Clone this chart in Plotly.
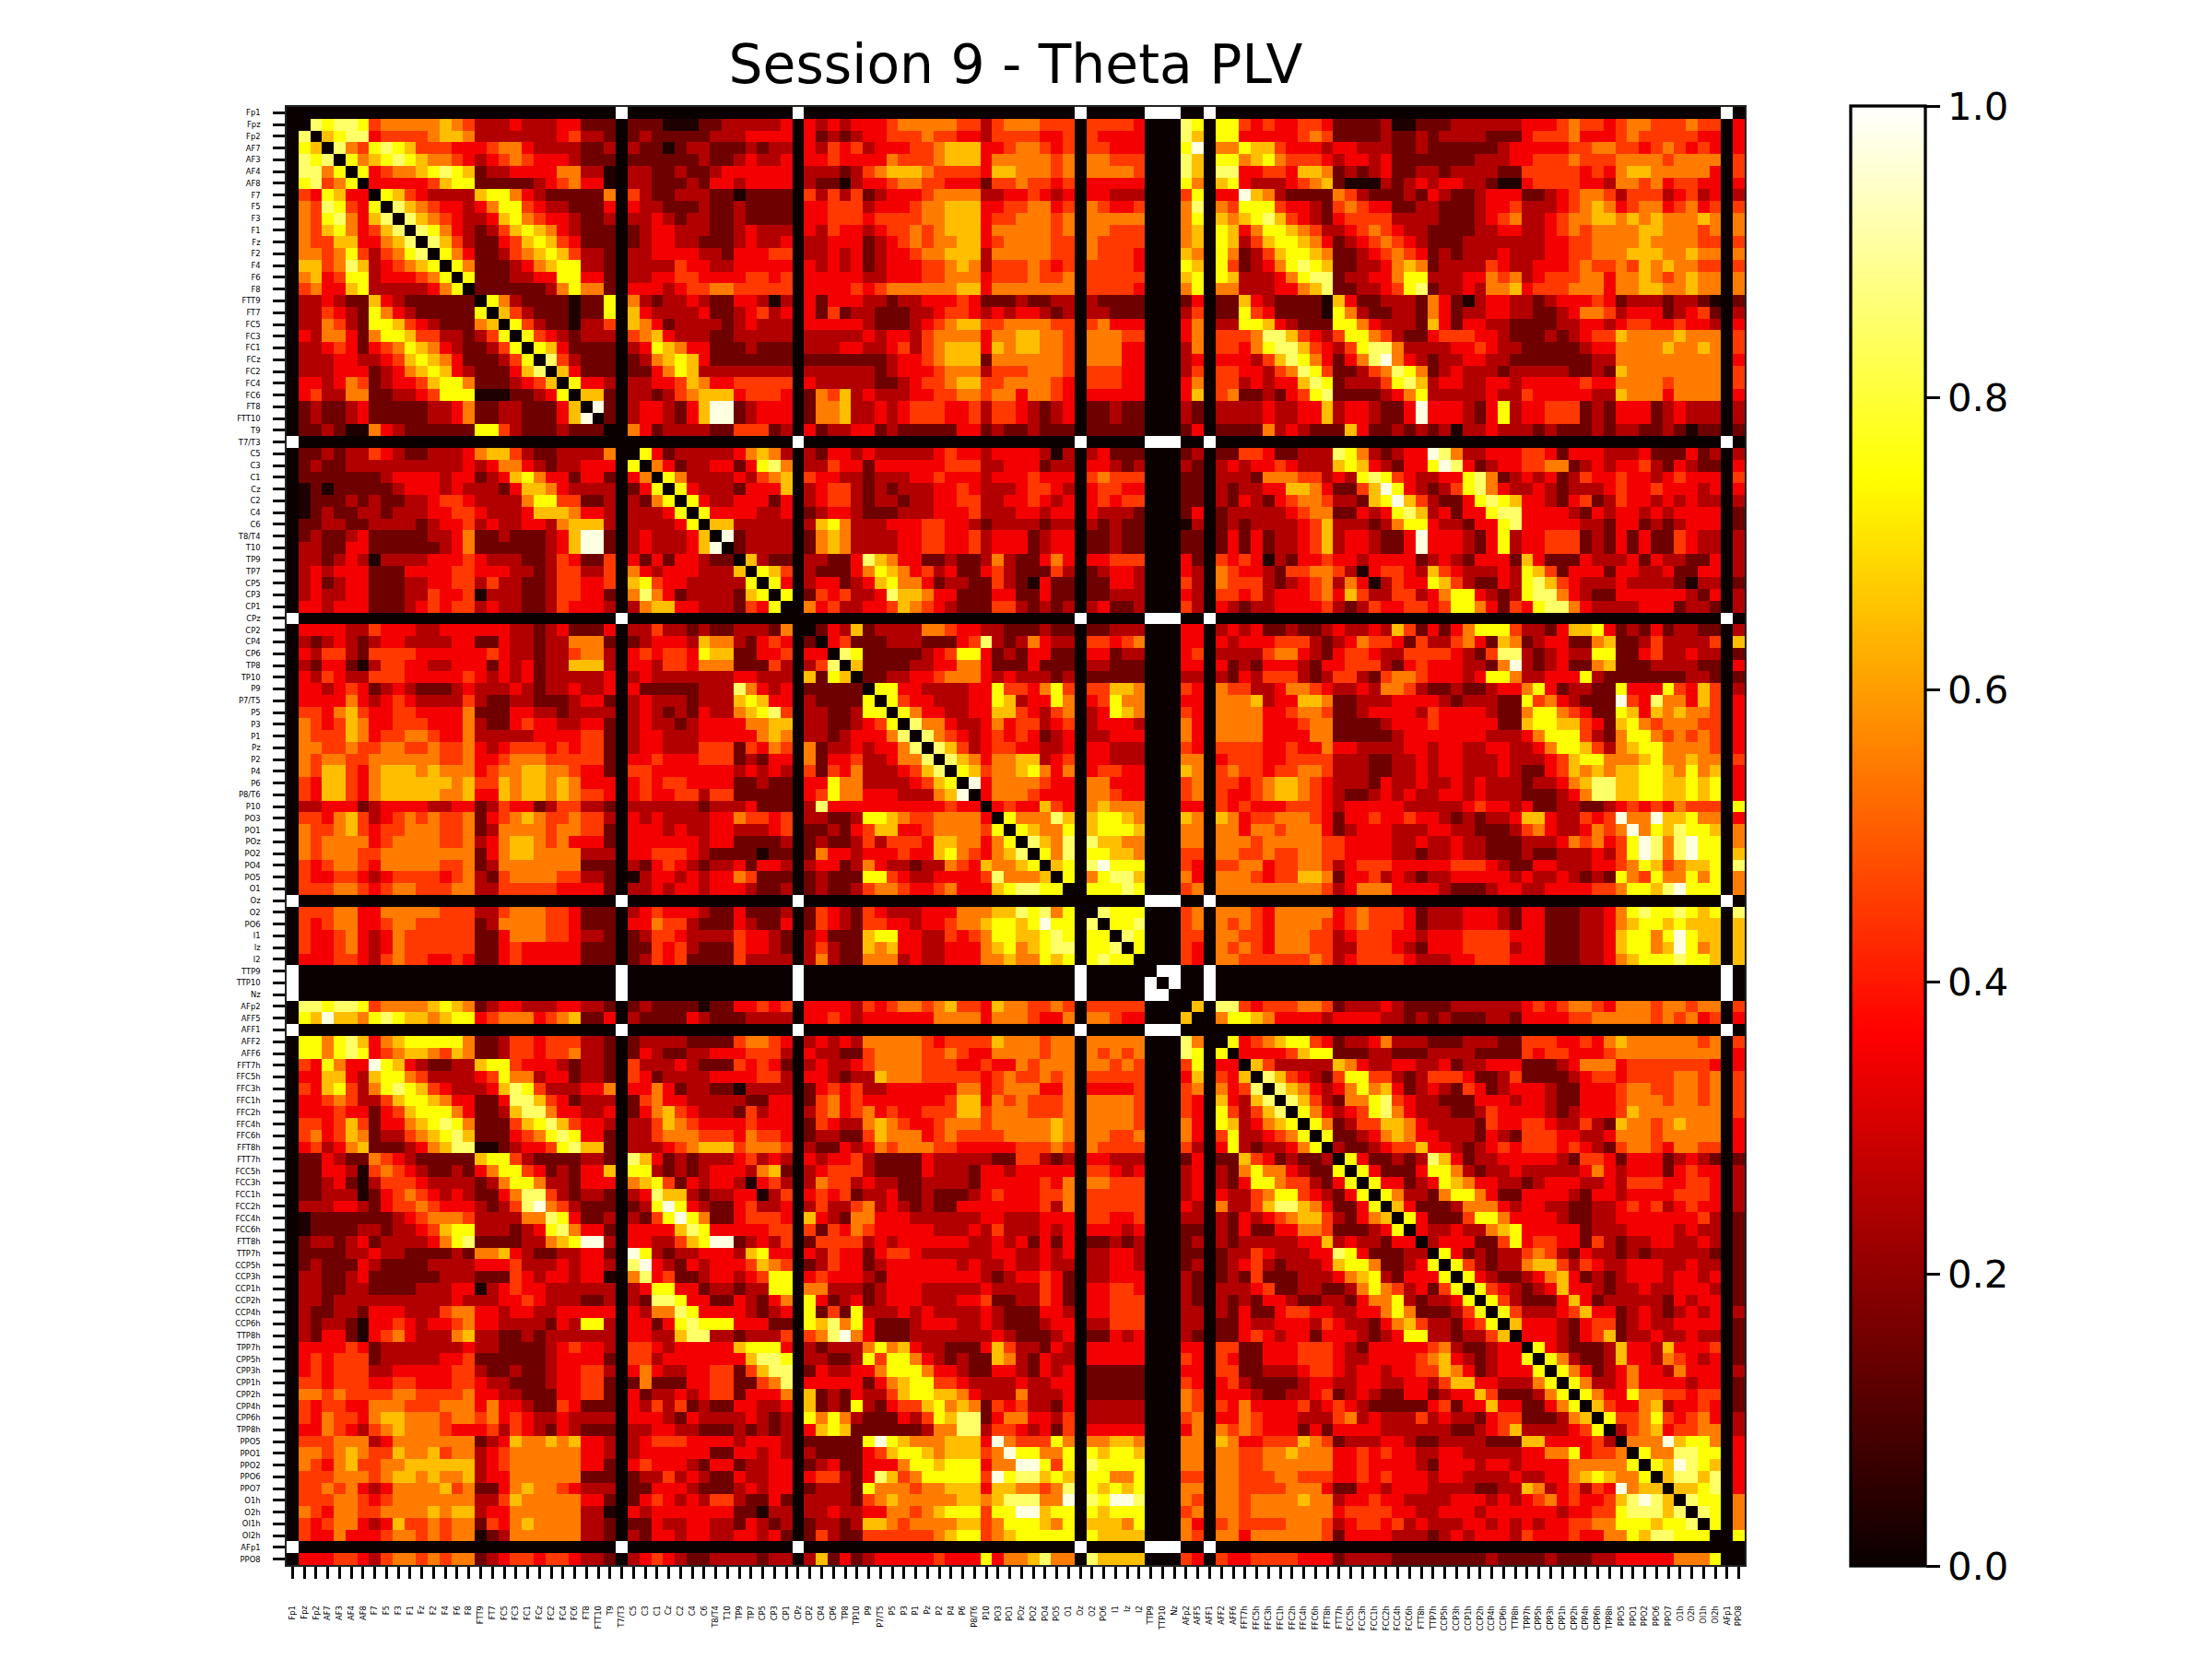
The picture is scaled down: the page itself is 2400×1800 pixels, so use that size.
import plotly.graph_objects as go

channels = ["Fp1","Fpz","Fp2","AF7","AF3","AF4","AF8","F7","F5","F3","F1","Fz","F2","F4","F6","F8",
"FTT9","FT7","FC5","FC3","FC1","FCz","FC2","FC4","FC6","FT8","FTT10","T9","T7/T3",
"C5","C3","C1","Cz","C2","C4","C6","T8/T4","T10","TP9","TP7","CP5","CP3","CP1","CPz",
"CP2","CP4","CP6","TP8","TP10","P9","P7/T5","P5","P3","P1","Pz","P2","P4","P6","P8/T6","P10",
"PO3","PO1","POz","PO2","PO4","PO5","O1","Oz","O2","PO6","I1","Iz","I2","TTP9","TTP10","Nz",
"AFp2","AFF5","AFF1","AFF2","AFF6","FFT7h","FFC5h","FFC3h","FFC1h","FFC2h","FFC4h","FFC6h","FFT8h",
"FTT7h","FCC5h","FCC3h","FCC1h","FCC2h","FCC4h","FCC6h","FTT8h","TTP7h","CCP5h","CCP3h","CCP1h",
"CCP2h","CCP4h","CCP6h","TTP8h","TPP7h","CPP5h","CPP3h","CPP1h","CPP2h","CPP4h","CPP6h","TPP8h",
"PPO5","PPO1","PPO2","PPO6","PPO7","O1h","O2h","OI1h","OI2h","AFp1","PPO8"]

# channels whose PLV reads 1.0 with one another and 0 with everything else
flat_channels = ["Fp1","T7/T3","CPz","Oz","TTP9","TTP10","Nz","AFF1","AFp1"]

# colour-read levels, indexed by the digits below
levels = [0.03,0.15,0.25,0.35,0.45,0.55,0.65,0.75,0.85,0.97]

# channels grouped by the blocks in which the rows below are spaced
group_sizes = [15,9,3,7,4,3,5,11,6,1,5,2,2,8,8,8,8,5,4,1]

# upper triangle
upper_rows = [
"87887455555654 222322233 111 1110001 1222 223 32323 33455555442 455544 4 44443 87 77 43433443 11112001 11222222 33345443 45544 4544 3",
"6788344445665 222222234 221 1211111 2223 333 31212 33444544332 444433 4 43333 86 77 33333454 11112112 12222111 34445333 45444 4433 3",
"854787644433 345532222 112 2110122 1112 122 32434 23334456663 345543 4 44333 79 55 76643332 33222112 11111123 33334455 44345 4343 3",
"75678765543 234543332 111 1111112 1123 223 33433 33544456663 555554 5 55444 86 77 56754443 23323111 11112223 34445444 55554 5555 4",
"7345567876 122333355 220 2211211 2333 333 22212 45666544443 665554 5 55554 86 88 33443665 12123112 21222211 44444343 56655 5553 4",
"333334677 111112345 330 2211121 3323 333 21102 33455443331 445443 4 33333 75 67 32223456 10002123 23322100 34444332 55453 4433 3",
"76432222 677532111 115 4211222 1101 111 42424 12333455552 233432 3 33222 47 33 96521111 54211121 32112333 11234554 24442 3423 2",
"8654332 357743221 113 3221112 1121 111 33444 23334556663 344553 4 54334 58 54 77743321 45433112 21112334 22234565 34553 4534 4",
"865432 236754332 112 2232122 1121 111 33444 34444556663 445554 5 55555 57 65 67864321 34444222 21112345 22345566 56565 5565 5",
"87532 124676532 111 1233222 1123 222 32433 23445456663 555554 5 55444 56 76 35776542 23454322 11112233 22345455 55665 5545 5",
"8642 113467643 111 1233221 1123 223 22333 12345455663 455554 4 54444 56 76 24677653 12345432 11122222 22334455 55655 5544 4",
"753 112456764 221 2233332 2133 344 22323 12334556662 555554 4 54443 65 75 12467765 11234543 12122232 22334455 56665 5655 5",
"75 111235677 221 2222433 2233 333 32323 12333445652 444543 4 44443 76 74 12357876 11223565 12222432 23334544 54656 5544 4",
"7 111223377 331 2233443 3334 434 33333 22333445553 444544 5 44444 67 76 22235788 12233577 22233545 23444553 55654 5655 5",
"111111257 551 3332344 5544 444 33334 34555555663 555555 5 44443 57 55 22233568 11223478 12232556 34445553 55665 5655 5",
"75211110 117 5212232 1133 202 31333 22122333431 112112 2 21111 13 11 63211110 63112221 53102332 21233343 12221 2210 1",
"6421110 117 6322223 1123 423 31412 21112234432 323321 2 22111 24 11 74311110 75211221 53122332 21123554 23331 2341 2",
"742110 224 6531222 2123 222 33333 21112345664 455554 4 45333 35 22 77632111 77532221 63133221 11122332 34433 4332 3",
"74321 222 4563222 1122 222 22222 32332455553 556655 4 55544 35 44 45886432 47754211 34443321 11212344 65555 6555 4",
"7631 111 2376533 1112 111 22233 22342456663 656655 4 55533 25 44 35788643 24788522 22334322 11111233 55556 5565 4",
"842 111 1256763 1111 111 11111 11233456661 555555 4 55533 23 33 32468753 13589532 12233221 11111122 55555 5555 3",
"63 111 1135762 2222 222 22222 21233345552 444555 4 44433 24 44 33245874 11245875 12322212 22221121 65555 5555 4",
"7 332 2233465 3344 444 32222 21123445664 455554 3 44433 35 44 23233687 12224786 23322332 33333433 55554 5555 4",
"661 2212456 6634 443 15462 32223344554 553554 3 33333 36 45 11213478 11112357 22222322 43333322 65553 5555 3",
"91 2332136 9912 333 15562 23234443342 443212 3 11211 21 22 22322336 23321139 33321372 33444121 33312 3222 2",
"1 2332136 9912 333 15562 23234443342 443212 3 11211 21 22 22322336 23321139 33321372 33444121 33312 3222 2",
"5312222 1144 412 31223 31211111331 211211 1 11111 13 11 11523211 16311212 12022322 21211121 22112 1011 1",
"731222 2235 652 21332 32222234332 333320 2 23111 12 11 44311222 87521233 98522333 44313332 22311 1312 2",
"53122 3313 785 22433 13333334442 233312 2 33212 21 23 23343222 67632133 79831233 44551232 33421 3211 3",
"7522 2232 456 43322 12223343332 333433 3 45444 11 22 21555442 32787432 23378512 32312433 43323 4333 4",
"732 2213 336 23442 12122233432 223443 2 34433 11 21 22336653 11469732 12478532 23212223 43343 3323 3",
"73 2233 313 23442 12212233442 233432 3 34344 11 21 32134554 22167964 21137876 33213412 43323 2322 2",
"7 3333 223 12332 11122233342 223323 3 32221 13 12 22223455 11323786 23133788 33332132 33232 3333 1",
"6622 222 26752 22333443321 222212 2 21211 02 12 12222346 22212577 32213378 33333221 33121 2333 1",
"912 222 15652 22233443342 333123 3 11211 11 13 13122346 23321139 33321372 33444121 31311 4322 2",
"12 222 15652 22233443342 333123 3 11211 11 13 13122346 23321139 33321372 33444121 31311 4322 2",
"6 211 22113 86533112112 521135 3 33444 31 43 43021334 33233331 23213331 63111322 23132 2113 2",
"764 21113 57653423113 421114 2 12332 32 54 33214455 42034432 64322232 76413331 33223 1133 2",
"73 23312 36755312211 421031 1 11332 42 54 44212345 25302433 76421132 78643222 32222 1022 1",
"7 14342 23866533111 331131 1 11222 32 44 34233345 36422442 35773212 78853211 33333 3213 2",
"53422 33465432111 442121 2 23112 42 32 12233334 21243344 34775314 37885322 22333 1221 2",
"1326 12222554332 211121 1 11222 33 23 23112112 32232641 31357774 22136673 12131 2211 2",
"341 11222111348 212532 2 44345 33 32 33344421 23544314 22453165 12331156 11242 2224 6",
"87 11111234773 121331 1 33122 34 22 22455321 34432244 44321488 21232277 11342 2322 1",
"6 11112233553 111311 1 22111 33 31 21333213 34442134 33322159 21231156 11122 2211 3",
"11223345553 232221 2 11111 22 21 32444212 44214554 33323775 22333721 11111 1221 1",
"7733222233 744357 4 44665 43 54 42235543 22325542 11211233 57312211 73337 4364 2",
"743322233 762337 5 34755 33 55 56233665 11222333 32122211 74532111 94385 5364 3",
"75332233 664324 5 23765 43 55 55334554 11233332 43333211 57754311 76365 6554 3",
"8553223 534423 4 23332 53 55 55333455 11112333 43333311 67766431 67545 5544 3",
"854323 434312 3 22333 53 55 55333355 11111233 33333222 35777421 57754 5454 3",
"86423 443322 3 33222 43 44 44334335 33222233 23322332 23577642 56775 5554 3",
"8653 556623 4 33222 55 34 44334444 22211223 23322232 22346775 55675 5655 4",
"764 556753 5 34433 65 45 44344554 22211223 23322232 11346565 66776 5756 3",
"93 555543 3 55333 45 44 34566543 22213223 22323222 12235688 66776 6767 3",
"3 555433 3 55433 45 43 34566543 21123232 23323222 11123588 66776 6767 3",
"343364 3 56555 33 43 43334443 23333322 22234332 31122112 34343 5444 7",
"75558 6 67765 65 65 34455543 13343343 32121223 66322434 95596 6755 3",
"7655 7 67776 55 55 35545553 12333222 33221112 45322354 59576 8776 5",
"865 8 86655 55 55 54555554 43333223 22322111 22235453 47985 8977 5",
"75 8 77665 44 55 44544554 43333221 22322111 21122232 47985 8977 6",
"6 7 89777 43 44 55344554 23444333 33444321 13322233 45764 5667 8",
"7 57886 53 55 54344665 13342321 22333332 32232121 75475 5757 5",
"77787 45 55 55555554 23555333 32111233 22333344 57768 9777 5",
"8777 45 55 54355555 34544431 22233321 33111223 57877 8767 8",
"778 45 54 54355554 34544431 22233321 33111223 56776 7666 6",
"87 44 55 44355544 23444332 33344443 33111223 67757 9766 6",
"7 43 54 54355544 22444321 33344442 33111223 67756 9756 6",
"43 55 44444454 23444432 22334443 33111223 56777 8776 6",
"6 88 43444554 12223211 11222222 34345543 55545 5455 4",
"57 76533332 33332212 12111221 33334455 55545 4534 3",
"7 34567743 12235222 11122211 44433435 65555 5545 4",
"33334677 11122111 22221111 43443334 55555 5555 3",
"6422222 65322332 23122333 11123555 34444 4443 3",
"864321 47744212 44431124 11112344 34444 5545 4",
"86532 35756312 32143123 33211333 45544 5545 4",
"8642 15578432 21113332 33211333 45554 5545 4",
"753 23478532 22112433 33212333 46555 5555 4",
"75 12446653 22221433 44322421 65545 6555 3",
"7 11235653 32221321 44433223 55545 5555 3",
"21123446 33212343 44434321 45543 5544 3",
"7311212 86312233 33321443 13331 2321 1",
"731113 77521223 22222353 23331 3433 2",
"73312 37653322 12333223 24443 3443 2",
"7522 15775311 33332133 23333 4443 2",
"631 11255532 33221122 34342 3433 2",
"73 11147753 33321122 33333 3342 1",
"3 22322567 33333122 23333 2322 1",
"23331147 34433142 12233 2232 1",
"7312122 45421322 12122 2221 1",
"742122 56642432 23332 2322 1",
"73211 23563121 23332 3323 1",
"7432 12363321 22322 3332 1",
"742 11136312 22221 3233 1",
"74 22234633 12321 2323 2",
"6 33321344 12322 3333 1",
"33321346 12232 2322 1",
"7321112 63326 3334 1",
"752112 63325 4323 1",
"75312 35332 5333 2",
"7522 35333 3233 1",
"753 37554 4344 1",
"64 33562 3343 1",
"7 44574 3453 2",
"24563 4455 2",
"5559 6775 3",
"755 8877 3",
"76 9876 3",
"6 8868 3",
"6678 3",
"877 5",
"87 5",
"7 5",
"7",
]


def build_matrix():
    n = len(channels)
    active = [i for i, c in enumerate(channels) if c not in flat_channels]
    z = [[0.0] * n for _ in range(n)]
    flat_idx = [channels.index(c) for c in flat_channels]
    for a in flat_idx:
        for b in flat_idx:
            if a != b:
                z[a][b] = 1.0
    expected = []
    for g, size in enumerate(group_sizes):
        for k in range(size):
            head = [size - k - 1] if size - k - 1 > 0 else []
            expected.append(head + group_sizes[g + 1:])
    problems = []
    for row_no, text in enumerate(upper_rows):
        tokens = text.split()
        want = expected[row_no]
        if len(tokens) != len(want):
            problems.append(f"row {row_no} {channels[active[row_no]]}: {len(tokens)} groups, want {len(want)}")
            continue
        col = row_no + 1
        for tok, size in zip(tokens, want):
            tok = (tok + tok[-1] * size)[:size]
            for ch in tok:
                v = levels[int(ch)]
                i, j = active[row_no], active[col]
                z[i][j] = v
                z[j][i] = v
                col += 1
    if problems:
        raise ValueError("; ".join(problems))
    return z


z = build_matrix()
idx = list(range(len(channels)))

hot = [[0.0, "rgb(10,0,0)"], [0.365, "rgb(255,0,0)"], [0.746, "rgb(255,255,0)"], [1.0, "rgb(255,255,255)"]]

W, H = 2400, 1800
L, R, T, B = 311, 1893, 116, 1698
FONT = "DejaVu Sans"

fig = go.Figure(go.Heatmap(
    z=z, x=idx, y=idx, zmin=0, zmax=1, colorscale=hot, hoverongaps=False,
    colorbar=dict(
        x=2008 / W, xanchor="left", xpad=0, ypad=0,
        y=1 - 115 / H, yanchor="top", len=(1699 - 115) / H, lenmode="fraction",
        thickness=81, thicknessmode="pixels",
        outlinecolor="black", outlinewidth=3.3, borderwidth=0,
        tickmode="linear", tick0=0, dtick=0.2, tickformat=".1f",
        ticks="outside", ticklen=14.6, tickwidth=3.3, tickcolor="black",
        tickfont=dict(family=FONT, size=41.67, color="black"),
    ),
))

axis_common = dict(
    tickmode="array", tickvals=idx, ticktext=channels,
    ticks="outside", ticklen=13, tickwidth=3.3, tickcolor="black",
    tickfont=dict(family=FONT, size=8.4, color="black"),
    showline=True, linecolor="#222222", linewidth=1.5, mirror=True,
    showgrid=False, zeroline=False,
)

fig.update_layout(
    width=W, height=H, margin=dict(l=0, r=0, t=0, b=0),
    paper_bgcolor="white", plot_bgcolor="white",
    title=dict(text="Session 9 - Theta PLV", x=1102 / W, xanchor="center",
               y=1 - 70 / H, yanchor="middle",
               font=dict(family=FONT, size=58.3, color="black")),
    xaxis=dict(domain=[L / W, R / W], range=[-0.5, 123.5], tickangle=-90,
               ticklabelstandoff=26, **axis_common),
    yaxis=dict(domain=[1 - B / H, 1 - T / H], range=[123.5, -0.5],
               ticklabelstandoff=12, **axis_common),
)

fig.write_html("out.html", config={"displayModeBar": False},
               post_script="document.body.style.margin='0';")
